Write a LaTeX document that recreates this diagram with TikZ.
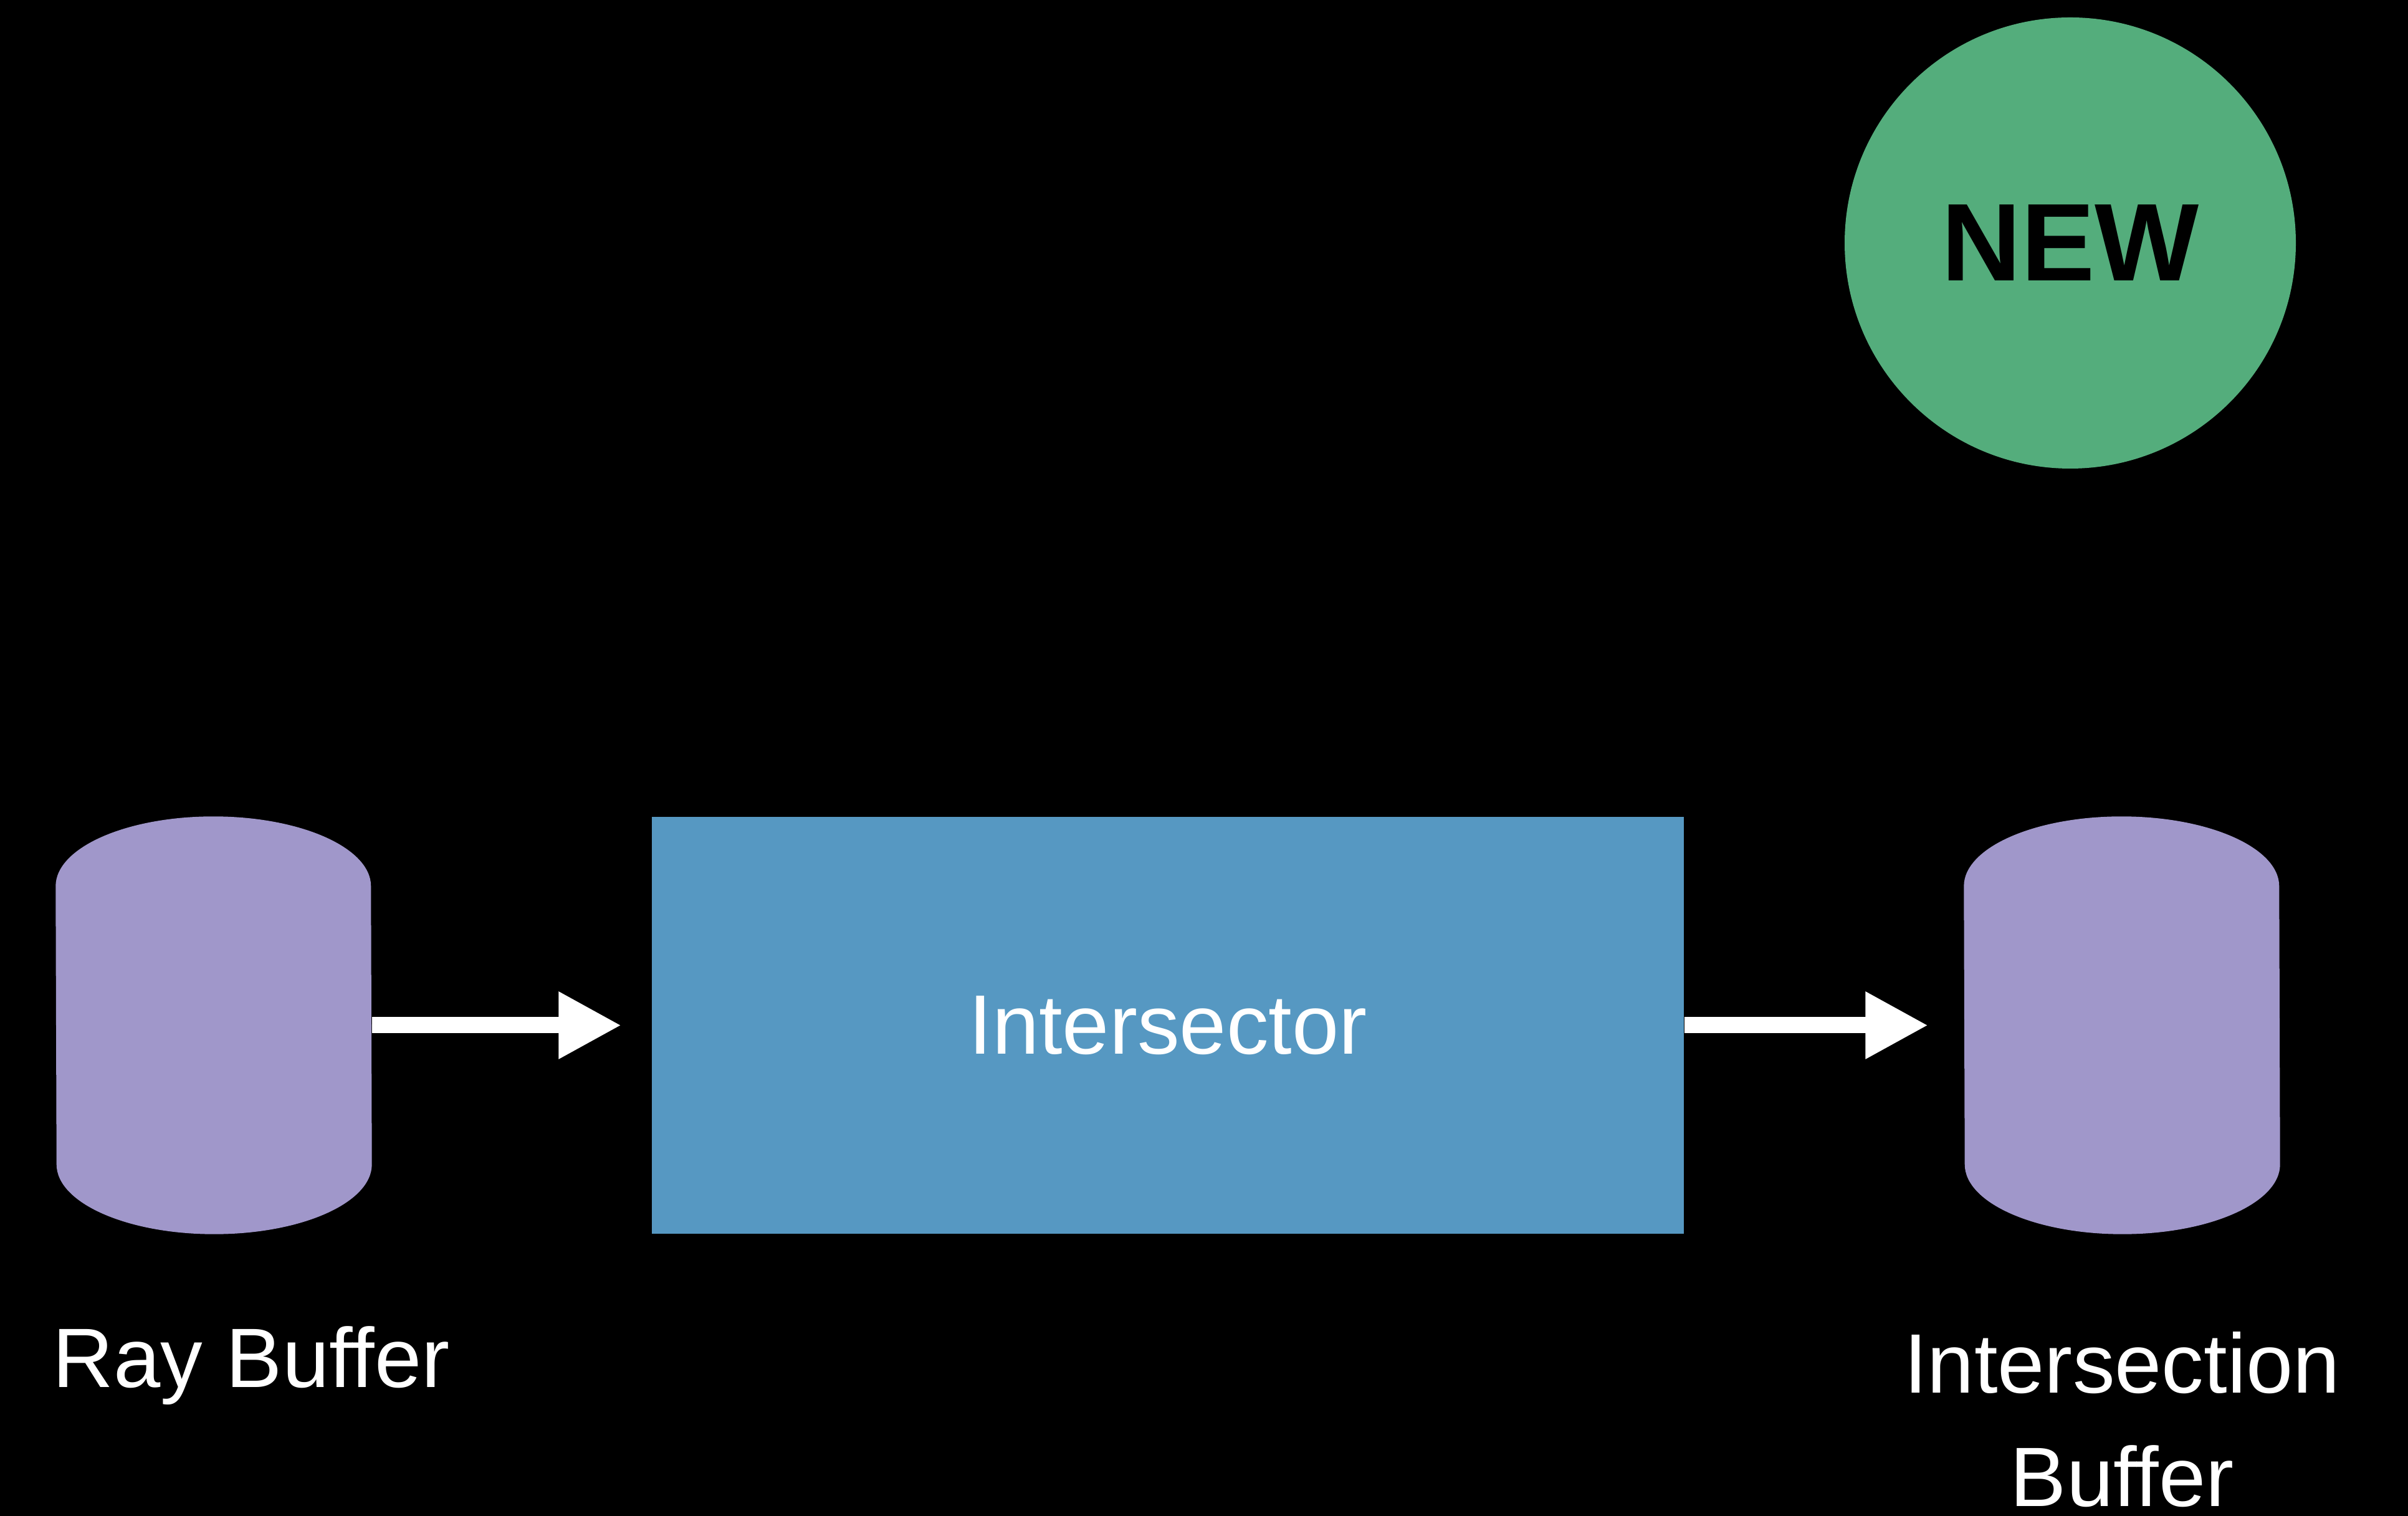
\documentclass[tikz,border=0pt]{standalone}
\usepackage{fontspec}
\setmainfont[Ligatures=CommonOff]{Liberation Sans}
\usetikzlibrary{arrows.meta,calc}
\definecolor{cylfill}{RGB}{160,151,202}
\definecolor{boxfill}{RGB}{86,152,194}
\definecolor{newgreen}{RGB}{84,173,124}
\begin{document}
\begin{tikzpicture}[
  lbl/.style={text=white, inner sep=0pt, font=\fontsize{38.5pt}{51.8pt}\selectfont},
  flowarrow/.style={white, line width=0.26cm, -{Triangle[length=1.01cm,width=1.01cm]}},
  cylframe/.style={minimum width=5.06cm, minimum height=6.69cm, inner sep=0pt, draw=none}
]
\fill[black] (0,0) rectangle (38.64,24.33);
\useasboundingbox (0,0) rectangle (38.64,24.33);

\node[cylframe] (raybuf) at (3.43,7.875) {};
\node[cylframe] (intbuf) at (34.05,7.875) {};
\foreach \c in {raybuf,intbuf}{
  \fill[cylfill] ($(\c.north west)+(0,-1.12)$)
    arc[start angle=180,end angle=0,x radius=2.53cm,y radius=1.12cm]
    -- ($(\c.south east)+(0,1.12)$)
    arc[start angle=0,end angle=-180,x radius=2.53cm,y radius=1.12cm]
    -- cycle;
}

\node[fill=boxfill, minimum width=16.56cm, minimum height=6.69cm, inner sep=0pt,
      lbl] (isect) at (18.74,7.875) {Intersector};

\draw[flowarrow, shorten >=0.48cm] (raybuf.east) -- (isect.west);
\draw[flowarrow, shorten >=0.57cm] (isect.east) -- (intbuf.west);

\node[circle, fill=newgreen, minimum size=7.24cm, inner sep=0pt, text=black,
      font=\fontsize{50.4pt}{60pt}\selectfont\bfseries] (newbadge) at (33.22,20.43) {NEW};

\node[lbl, anchor=base west] (raylbl) at (0.84,2.06) {Ray Buffer};
\node[lbl, anchor=north, align=center] (intlbl) at (34.05,2.96) {Intersection\\Buffer};
\end{tikzpicture}
\end{document}
